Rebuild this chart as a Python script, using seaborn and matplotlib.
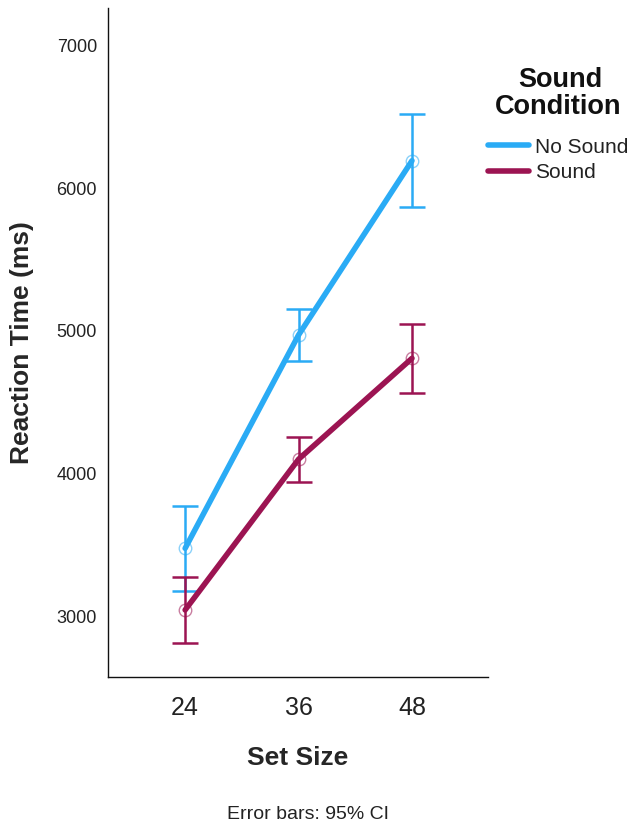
import numpy as np
import pandas as pd
import matplotlib
matplotlib.use("Agg")
import matplotlib.pyplot as plt
import seaborn as sns
from matplotlib.lines import Line2D

set_sizes = ["24", "36", "48"]
conditions = ["No Sound", "Sound"]
no_sound_mean = [3480, 4972, 6191]
no_sound_lo = [3184, 4790, 5869]
no_sound_hi = [3778, 5154, 6517]
sound_mean = [3049, 4103, 4809]
sound_lo = [2820, 3946, 4569]
sound_hi = [3282, 4257, 5047]
colors = ["#2AABF5", "#9C1452"]

sns.set_theme(style="white")
plt.rcParams["font.family"] = ["Liberation Sans", "DejaVu Sans"]

rows = []
for i, s in enumerate(set_sizes):
    rows.append(dict(pos=i, size=s, cond=conditions[0], mean=no_sound_mean[i],
                     lo=no_sound_lo[i], hi=no_sound_hi[i]))
for i, s in enumerate(set_sizes):
    rows.append(dict(pos=i, size=s, cond=conditions[1], mean=sound_mean[i],
                     lo=sound_lo[i], hi=sound_hi[i]))
df = pd.DataFrame(rows)

W, H = 632, 830
fig = plt.figure(figsize=(W / 100, H / 100), dpi=100)
ax = fig.add_axes([108 / W, 1 - 677 / H, 380 / W, 669 / H])

pal = dict(zip(conditions, colors))
sns.lineplot(data=df, x="pos", y="mean", hue="cond", hue_order=conditions,
             palette=pal, linewidth=4, ax=ax, legend=False, zorder=3)

for c, col in zip(conditions, colors):
    sub = df[df["cond"] == c]
    ax.errorbar(sub["pos"], sub["mean"],
                yerr=[sub["mean"] - sub["lo"], sub["hi"] - sub["mean"]],
                fmt="none", ecolor=col, elinewidth=1.8, capsize=9.5,
                capthick=1.8, zorder=2)
    ax.plot(sub["pos"], sub["mean"], linestyle="none", marker="o",
            markersize=9, markerfacecolor="none", markeredgecolor=col,
            markeredgewidth=1.0, alpha=0.55, zorder=4)

ax.set_xlim(-0.68, 2.67)
ax.set_ylim(2580, 7259)
ax.set_xticks(range(len(set_sizes)))
ax.set_xticklabels(set_sizes, fontsize=18, color="#222222")
ax.set_yticks([3000, 4000, 5000, 6000, 7000])
ax.set_yticklabels(["3000", "4000", "5000", "6000", "7000"], fontsize=13,
                   color="#222222")
ax.tick_params(axis="y", length=0, pad=8)
ax.tick_params(axis="x", length=0, pad=14)
for sp in ["top", "right"]:
    ax.spines[sp].set_visible(False)
for sp in ["left", "bottom"]:
    ax.spines[sp].set_color("#111111")
    ax.spines[sp].set_linewidth(1.0)

ax.set_xlabel("Set Size", fontsize=19, fontweight="bold")
ax.xaxis.set_label_coords(0.5, -0.121)
ax.xaxis.label.set_va("center")
ax.set_ylabel("Reaction Time (ms)", fontsize=19, fontweight="bold")
ax.yaxis.set_label_coords(-(108 - 22) / 380, 1 - (343 - 8) / 669)
ax.yaxis.label.set_va("center")

# legend title
title_kw = dict(ha="center", va="baseline", fontsize=19.5, fontweight="bold",
                color="#111111")
fig.text(560 / W, 1 - 87 / H, "Sound", **title_kw)
fig.text(558 / W, 1 - 114 / H, "Condition", **title_kw)

# legend entries
handles = [Line2D([0], [0], color=col, lw=4) for col in colors]
leg = fig.legend(handles, conditions, loc="center left",
                 bbox_to_anchor=(488 / W, 1 - 160 / H),
                 frameon=False, fontsize=15, handlelength=1.95,
                 handletextpad=0.3, labelspacing=0.32, borderpad=0,
                 borderaxespad=0)
for t in leg.get_texts():
    t.set_color("#222222")

fig.text(308 / W, 1 - 814 / H, "Error bars: 95% CI", ha="center",
         va="center", fontsize=14, color="#222222")

fig.savefig("out.png", dpi=100)
